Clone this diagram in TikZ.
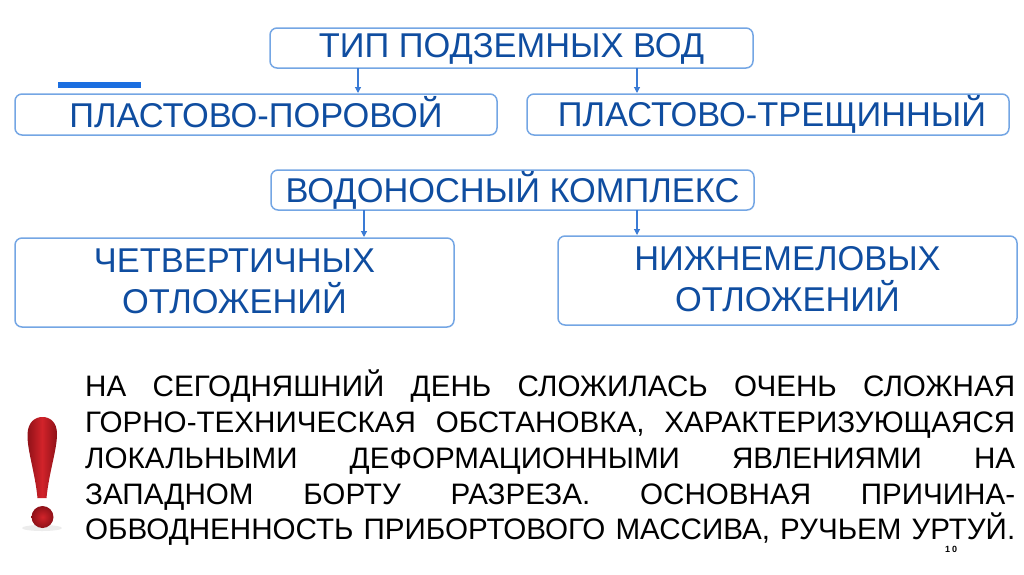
\documentclass[tikz,border=0pt]{standalone}
\usepackage{fontspec}
\setmainfont{Liberation Sans}
\usetikzlibrary{arrows.meta,shadings}
\definecolor{txtblue}{HTML}{0F4DA0}
\definecolor{boxline}{HTML}{74A6E4}
\definecolor{arrblue}{HTML}{3A7BD5}
\definecolor{barblue}{HTML}{1C6FE0}
\definecolor{markred}{HTML}{D2232A}
\definecolor{markdark}{HTML}{8E1118}
\tikzset{
 flowbox/.style={draw=boxline,line width=1.5pt,rounded corners=7pt,fill=white,text=txtblue,align=center,inner sep=0pt,outer sep=0pt},
 big/.style={font=\fontsize{34.4}{41}\selectfont},
 link/.style={draw=arrblue,line width=1.1pt,-{Triangle[length=6pt,width=6pt]},shorten >=1pt}
}
\newcommand{\paraline}[1]{\makebox[930pt][s]{#1}}
\newcommand{\bst}{\rule[-6pt]{0pt}{32pt}}
\begin{document}
\begin{tikzpicture}[x=1pt,y=-1pt]
\useasboundingbox (0,0) rectangle (1024,574);
\fill[barblue] (58,82) rectangle (141,88) ;
\node[flowbox,big,minimum width=483pt,minimum height=40pt] (tip) at (511.5,48) {\bst ТИП ПОДЗЕМНЫХ ВОД};
\node[flowbox,big,minimum width=482pt,minimum height=41pt] (por) at (256,114.5) {\bst ПЛАСТОВО-ПОРОВОЙ};
\node[flowbox,big,minimum width=482pt,minimum height=41pt] (tre) at (768,114.5) {\bst\hspace{8pt}ПЛАСТОВО-ТРЕЩИННЫЙ};
\node[flowbox,big,minimum width=483pt,minimum height=40pt] (kom) at (512.5,190) {\bst ВОДОНОСНЫЙ КОМПЛЕКС};
\node[flowbox,big,minimum width=439pt,minimum height=89pt] (che) at (234.5,282.5) {\bst ЧЕТВЕРТИЧНЫХ\\\bst ОТЛОЖЕНИЙ};
\node[flowbox,big,minimum width=459pt,minimum height=89pt] (niz) at (787.5,280.5) {\bst НИЖНЕМЕЛОВЫХ\\\bst ОТЛОЖЕНИЙ};
\coordinate (xa) at (358,0);
\coordinate (xb) at (637,0);
\coordinate (xc) at (364,0);
\draw[link] (xa |- tip.south) -- (xa |- por.north);
\draw[link] (xb |- tip.south) -- (xb |- tre.north);
\draw[link] (xc |- kom.south) -- (xc |- che.north);
\draw[link] (xb |- kom.south) -- (xb |- niz.north);
\node[anchor=north west,inner sep=0pt,align=left,font=\fontsize{29.6}{35.75}\selectfont] (para) at (85,370) {%
\paraline{НА СЕГОДНЯШНИЙ ДЕНЬ СЛОЖИЛАСЬ ОЧЕНЬ СЛОЖНАЯ}\\
\paraline{ГОРНО-ТЕХНИЧЕСКАЯ ОБСТАНОВКА, ХАРАКТЕРИЗУЮЩАЯСЯ}\\
\paraline{ЛОКАЛЬНЫМИ ДЕФОРМАЦИОННЫМИ ЯВЛЕНИЯМИ НА}\\
\paraline{ЗАПАДНОМ БОРТУ РАЗРЕЗА. ОСНОВНАЯ ПРИЧИНА-}\\
\paraline{ОБВОДНЕННОСТЬ ПРИБОРТОВОГО МАССИВА, РУЧЬЕМ УРТУЙ.}};
\node[font=\bfseries\fontsize{9}{10}\selectfont,inner sep=0pt] (num) at (951,549) {1\hspace{2pt}0};
% exclamation mark
\fill[black!25,opacity=.3] (42,528) ellipse (20 and 3);
\shade[left color=markdark,right color=markdark,middle color=markred]
 (37.5,498) .. controls (35,472) and (27,450) .. (27.5,434)
 .. controls (28,422) and (35,417) .. (42.5,417)
 .. controls (50,417) and (57,422) .. (57,434)
 .. controls (57,450) and (49,472) .. (46.5,498) -- cycle;
\shade[inner color=markred,outer color=markdark] (42.5,517) circle (11);
\end{tikzpicture}
\end{document}
